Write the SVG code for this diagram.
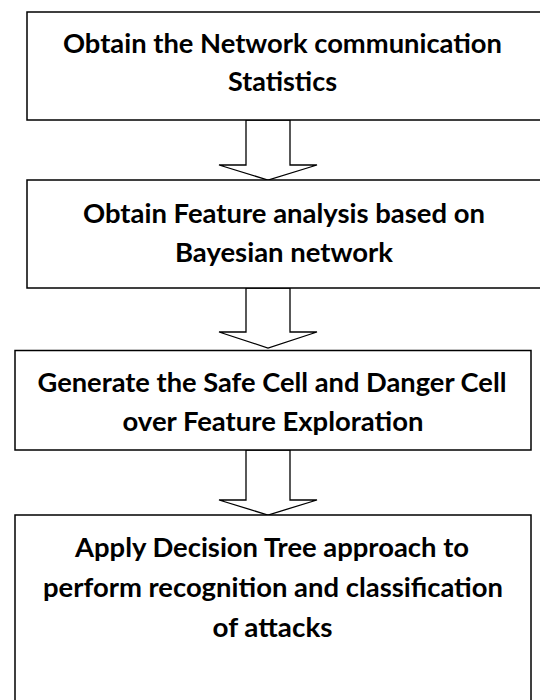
<svg xmlns="http://www.w3.org/2000/svg" width="540" height="700" viewBox="0 0 540 700">
  <style>
    .box { fill: #ffffff; stroke: #000000; stroke-width: 1.5; }
    .arrow { fill: #ffffff; stroke: #000000; stroke-width: 1.3; stroke-linejoin: miter; }
    .label { font-family: Lato, "Liberation Sans", sans-serif; font-weight: bold; font-size: 27.5px; fill: #000000; text-anchor: middle; }
  </style>
  <rect width="540" height="700" fill="#ffffff"/>

  <!-- block arrows between the steps -->
  <g id="connectors">
    <path class="arrow" d="M246,120 V165 H219 L268,180 L317,165 H290 V120 Z"/>
    <path class="arrow" d="M246,288 V332 H219 L268,348 L317,332 H290 V288 Z"/>
    <path class="arrow" d="M246,450 V500 H219 L268,515 L317,500 H290 V450 Z"/>
  </g>

  <g id="step1">
    <rect class="box" x="27" y="12" width="516" height="108"/>
    <text class="label" x="282.5" y="53" textLength="439" lengthAdjust="spacingAndGlyphs">Obtain the Network communication</text>
    <text class="label" x="282.5" y="91" textLength="109" lengthAdjust="spacingAndGlyphs">Statistics</text>
  </g>

  <g id="step2">
    <rect class="box" x="27" y="180" width="516" height="108"/>
    <text class="label" x="284" y="223" textLength="402" lengthAdjust="spacingAndGlyphs">Obtain Feature analysis based on</text>
    <text class="label" x="284" y="262" textLength="218" lengthAdjust="spacingAndGlyphs">Bayesian network</text>
  </g>

  <g id="step3">
    <rect class="box" x="15" y="350.5" width="516" height="99.5"/>
    <text class="label" x="272" y="392" textLength="469" lengthAdjust="spacingAndGlyphs">Generate the Safe Cell and Danger Cell</text>
    <text class="label" x="273" y="431" textLength="301" lengthAdjust="spacingAndGlyphs">over Feature Exploration</text>
  </g>

  <g id="step4">
    <rect class="box" x="15" y="515" width="516" height="210"/>
    <text class="label" x="272" y="557" textLength="394" lengthAdjust="spacingAndGlyphs">Apply Decision Tree approach to</text>
    <text class="label" x="273" y="597" textLength="460" lengthAdjust="spacingAndGlyphs">perform recognition and classification</text>
    <text class="label" x="272.5" y="637" textLength="120" lengthAdjust="spacingAndGlyphs">of attacks</text>
  </g>
</svg>
